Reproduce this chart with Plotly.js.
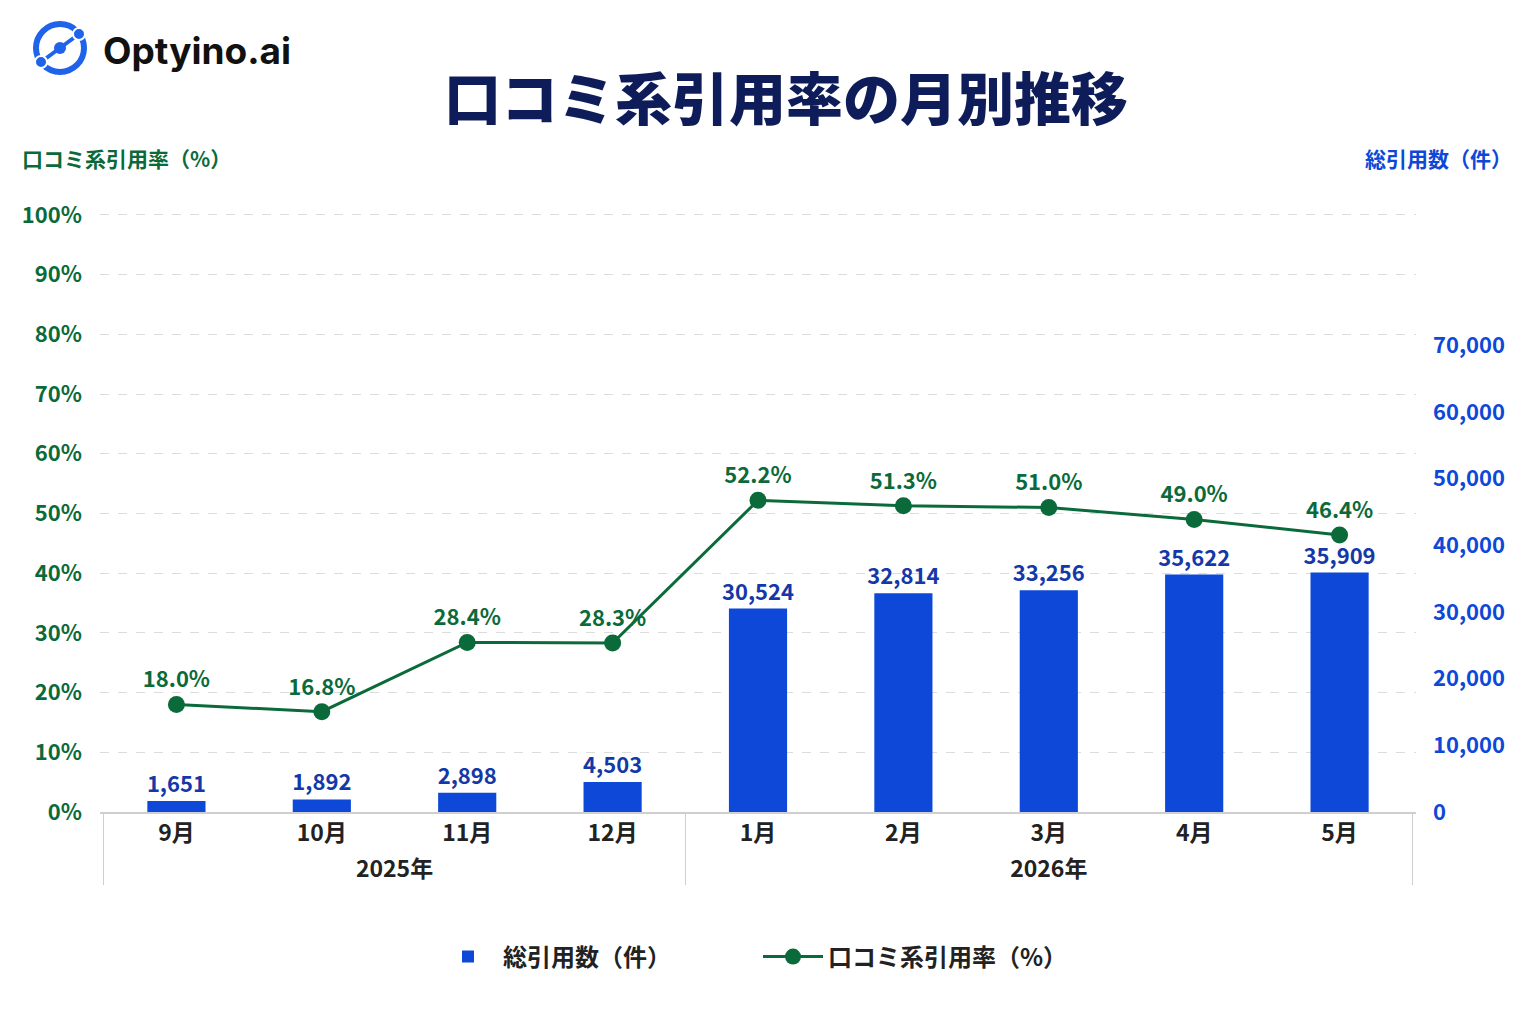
<!DOCTYPE html>
<html>
<head>
<meta charset="utf-8">
<script src="https://cdn.plot.ly/plotly-3.0.1.min.js"></script>
<style>
  html, body { margin: 0; padding: 0; background: #fff; }
  #chart { width: 1536px; height: 1024px; }
</style>
</head>
<body>
<div id="chart"></div>
<script>
// data
const years = ["2025年", "2025年", "2025年", "2025年", "2026年", "2026年", "2026年", "2026年", "2026年"];
const months = ["9月", "10月", "11月", "12月", "1月", "2月", "3月", "4月", "5月"];
const totalCitations = [1651, 1892, 2898, 4503, 30524, 32814, 33256, 35622, 35909];
const reviewRate = [18.0, 16.8, 28.4, 28.3, 52.2, 51.3, 51.0, 49.0, 46.4];
const countTicks = [0, 10000, 20000, 30000, 40000, 50000, 60000, 70000];

const BLUE = "#0D48D8";
const BLUE_TEXT = "#1438A8";
const GREEN = "#0B6A3A";
const NAVY = "#0E1D5A";
const JP = "Noto Sans CJK JP, Noto Sans, sans-serif";

const x = [years, months];

const bars = {
  type: "bar",
  name: "総引用数（件）",
  x: x,
  y: totalCitations,
  yaxis: "y",
  marker: { color: BLUE },
  text: totalCitations.map(v => v.toLocaleString("en-US")),
  textposition: "outside",
  constraintext: "none",
  cliponaxis: false,
  textfont: { family: JP, size: 22, color: BLUE_TEXT, weight: 700 },
  hoverinfo: "skip"
};

const line = {
  type: "scatter",
  mode: "lines+markers+text",
  name: "口コミ系引用率（%）",
  x: x,
  y: reviewRate,
  yaxis: "y2",
  line: { color: GREEN, width: 3 },
  marker: { color: GREEN, size: 17 },
  text: reviewRate.map(v => v.toFixed(1) + "%"),
  textposition: "top center",
  cliponaxis: false,
  textfont: { family: JP, size: 22, color: GREEN, weight: 700 },
  hoverinfo: "skip"
};

// logo icon, drawn in pixels around an anchor left of the plot
const ax0 = -40 / 1316, ay0 = (812 - 48) / 600;
function px(shape) {
  return Object.assign({ xref: "paper", yref: "paper", xsizemode: "pixel", ysizemode: "pixel",
    xanchor: ax0, yanchor: ay0 }, shape);
}

const layout = {
  width: 1536,
  height: 1024,
  paper_bgcolor: "#ffffff",
  plot_bgcolor: "#ffffff",
  margin: { l: 100, r: 120, t: 212, b: 212 },
  font: { family: JP, color: "#222222" },
  showlegend: true,
  bargap: 0.6,
  title: {
    text: "口コミ系引用率の月別推移",
    font: { family: JP, size: 57, color: NAVY, weight: 900 },
    x: 786 / 1536, xanchor: "center",
    y: 1 - 100 / 1024, yanchor: "middle"
  },
  xaxis: {
    type: "multicategory",
    showline: true, linecolor: "#cfcfcf", linewidth: 1.5,
    showdividers: true, dividercolor: "#cfcfcf", dividerwidth: 1.5,
    ticks: "",
    tickfont: { family: JP, size: 23, color: "#222222", weight: 600 },
    showgrid: false
  },
  yaxis: {
    side: "right",
    range: [0, 90000],
    tickvals: countTicks,
    tickformat: ",d",
    showgrid: false, zeroline: false,
    ticklabelstandoff: 16,
    tickfont: { family: JP, size: 22, color: BLUE, weight: 700 }
  },
  yaxis2: {
    overlaying: "y",
    side: "left",
    range: [0, 100.5],
    tick0: 0,
    dtick: 10,
    ticksuffix: "%",
    showgrid: true, gridcolor: "#dcdcdc", griddash: "dash", gridwidth: 1,
    zeroline: false,
    ticklabelstandoff: 17,
    tickfont: { family: JP, size: 22, color: GREEN, weight: 700 }
  },
  legend: {
    orientation: "h",
    x: 0.5, xanchor: "center",
    y: (812 - 957) / 600, yanchor: "middle",
    font: { family: JP, size: 24, color: "#222222", weight: 600 },
    itemwidth: 60,
    entrywidth: 250
  },
  annotations: [
    { xref: "paper", yref: "paper", x: (20 - 100) / 1316, y: (812 - 158) / 600,
      xanchor: "left", yanchor: "middle", showarrow: false,
      text: "口コミ系引用率（%）", font: { family: JP, size: 21, color: GREEN, weight: 700 } },
    { xref: "paper", yref: "paper", x: (1514 - 100) / 1316, y: (812 - 158) / 600,
      xanchor: "right", yanchor: "middle", showarrow: false,
      text: "総引用数（件）", font: { family: JP, size: 21, color: BLUE, weight: 700 } },
    { xref: "paper", yref: "paper", x: (101 - 100) / 1316, y: (812 - 50) / 600,
      xanchor: "left", yanchor: "middle", showarrow: false,
      text: "Optyino.ai", font: { family: "Inter, Roboto, sans-serif", size: 37, color: "#111111", weight: 700 } }
  ],
  shapes: [
    px({ type: "circle", x0: -24, x1: 24, y0: -24, y1: 24, line: { color: "#1E63E9", width: 6 } }),
    px({ type: "line", x0: -19, y0: -14, x1: 19, y1: 14, line: { color: "#1E63E9", width: 4 } }),
    px({ type: "circle", x0: -6, x1: 6, y0: -6, y1: 6, fillcolor: "#1E63E9", line: { width: 0 } }),
    px({ type: "circle", x0: -25, x1: -13, y0: -20, y1: -8, fillcolor: "#1E63E9", line: { color: "#ffffff", width: 2 } }),
    px({ type: "circle", x0: 13, x1: 25, y0: 8, y1: 20, fillcolor: "#1E63E9", line: { color: "#ffffff", width: 2 } })
  ]
};

Plotly.newPlot("chart", [bars, line], layout, { displayModeBar: false, staticPlot: true });
</script>
</body>
</html>
